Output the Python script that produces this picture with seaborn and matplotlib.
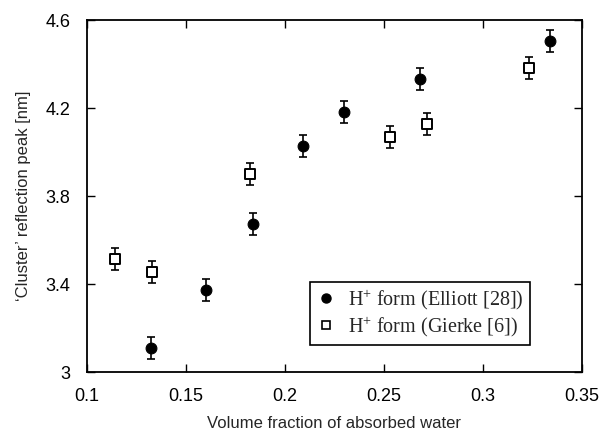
import matplotlib
matplotlib.use("Agg")
import matplotlib.pyplot as plt
import seaborn as sns
import pandas as pd
import numpy as np
from matplotlib.lines import Line2D

# Data
elliott_x = [0.1323, 0.160, 0.184, 0.209, 0.230, 0.268, 0.334]
elliott_y = [3.113, 3.375, 3.675, 4.028, 4.181, 4.333, 4.504]
gierke_x = [0.114, 0.133, 0.1823, 0.253, 0.272, 0.3234]
gierke_y = [3.516, 3.455, 3.900, 4.069, 4.130, 4.381]
err = 0.05

x_ticks = [0.1, 0.15, 0.2, 0.25, 0.3, 0.35]
x_labels = ["0.1", "0.15", "0.2", "0.25", "0.3", "0.35"]
y_ticks = [3.0, 3.4, 3.8, 4.2, 4.6]
y_labels = ["3", "3.4", "3.8", "4.2", "4.6"]

sns.set_style("ticks")
plt.rcParams['font.family'] = ['Liberation Sans', 'DejaVu Sans']
plt.rcParams['mathtext.fontset'] = 'custom'
plt.rcParams['mathtext.rm'] = 'Liberation Serif'
plt.rcParams['mathtext.it'] = 'Liberation Serif:italic'
plt.rcParams['mathtext.bf'] = 'Liberation Serif:bold'

fig = plt.figure(figsize=(6.03, 4.37), dpi=100)
ax = fig.add_axes([0.1443, 0.1476, 0.8207, 0.8066])

df_e = pd.DataFrame({"x": elliott_x, "y": elliott_y})
df_g = pd.DataFrame({"x": gierke_x, "y": gierke_y})

ax.errorbar(df_e["x"], df_e["y"], yerr=err, fmt="none", ecolor="black",
            elinewidth=1.2, capsize=3, capthick=1.2, zorder=2)
ax.errorbar(df_g["x"], df_g["y"], yerr=err, fmt="none", ecolor="black",
            elinewidth=1.2, capsize=3, capthick=1.2, zorder=2)

sns.scatterplot(data=df_e, x="x", y="y", ax=ax, marker="o", s=60,
                color="black", edgecolor="black", linewidth=0.8, zorder=3, legend=False)
sns.scatterplot(data=df_g, x="x", y="y", ax=ax, marker="s", s=48,
                facecolor="white", edgecolor="black", linewidth=1.4, zorder=3, legend=False)

ax.set_xlim(0.1, 0.35)
ax.set_ylim(3.0, 4.6)
ax.set_xticks(x_ticks)
ax.set_xticklabels(x_labels)
ax.set_yticks(y_ticks)
ax.set_yticklabels(y_labels)
ax.tick_params(direction="in", length=6, width=1.0, top=True, right=True,
               labelsize=13, colors="black")
ax.tick_params(axis="x", pad=11)
ax.tick_params(axis="y", pad=12)
for sp in ax.spines.values():
    sp.set_visible(True)
    sp.set_linewidth(1.3)
    sp.set_color("black")

ax.set_xlabel("Volume fraction of absorbed water", fontsize=12, labelpad=8)
ax.set_ylabel("\u2018Cluster\u2019 reflection peak [nm]", fontsize=12, labelpad=10)

handles = [
    Line2D([], [], marker="o", linestyle="none", markerfacecolor="black",
           markeredgecolor="black", markersize=6.5),
    Line2D([], [], marker="s", linestyle="none", markerfacecolor="white",
           markeredgecolor="black", markeredgewidth=1.2, markersize=5.5),
]
labels = ["H$^{+}$ form (Elliott [28])", "H$^{+}$ form (Gierke [6])"]
leg = ax.legend(handles, labels, loc="lower left", bbox_to_anchor=(0.45, 0.078),
                prop={"family": "Liberation Serif", "size": 14.5}, frameon=True,
                fancybox=False, edgecolor="black", framealpha=1,
                handlelength=1.0, handletextpad=0.6, borderpad=0.3,
                labelspacing=0.15, borderaxespad=0)
leg.get_frame().set_linewidth(1.2)

fig.savefig("out.png", dpi=100)
